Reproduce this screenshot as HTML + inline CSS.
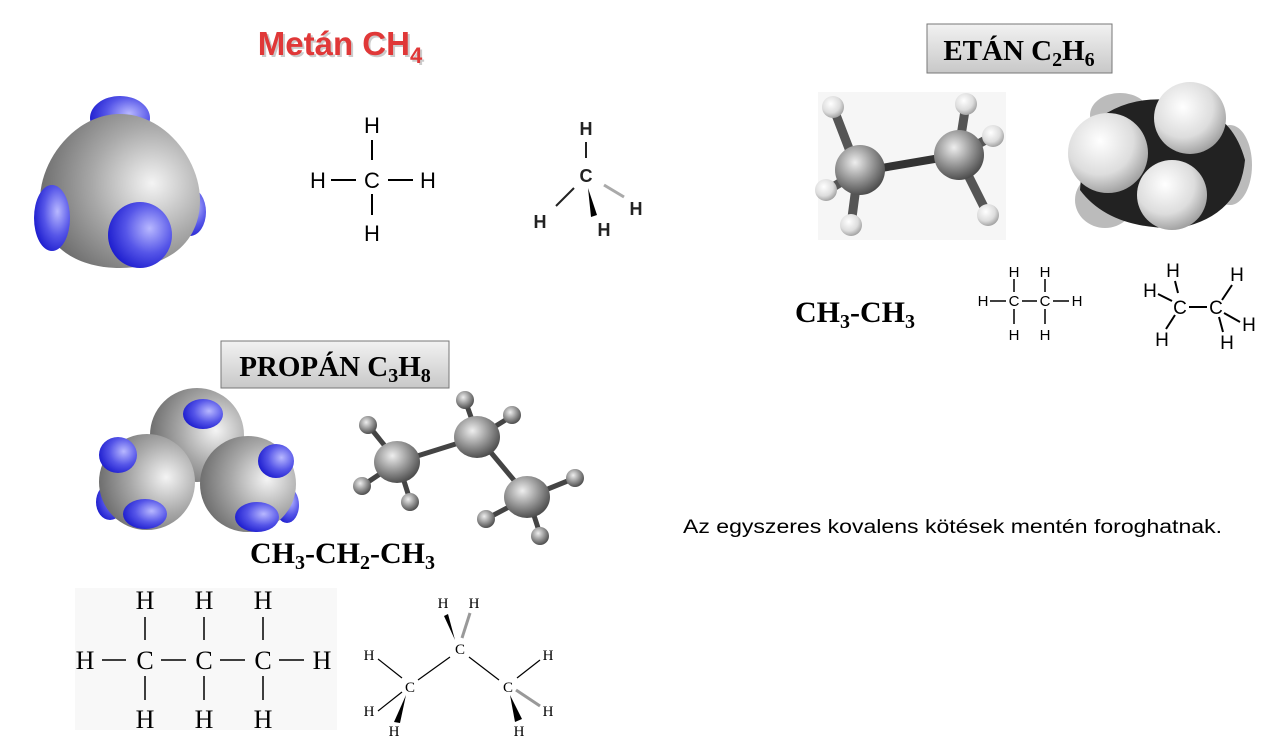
<!DOCTYPE html>
<html><head><meta charset="utf-8"><style>
html,body{margin:0;padding:0;background:#fff;}
svg{display:block;}
.sans{font-family:"Liberation Sans",sans-serif;}
.serif{font-family:"Liberation Serif",serif;}
</style></head><body>
<svg width="1283" height="751" viewBox="0 0 1283 751" xmlns="http://www.w3.org/2000/svg">
<defs>
<radialGradient id="gray" cx="0.7" cy="0.45" r="0.75"><stop offset="0" stop-color="#f4f4f4"/><stop offset="0.5" stop-color="#a8a8a8"/><stop offset="1" stop-color="#666"/></radialGradient>
<radialGradient id="blue" cx="0.65" cy="0.4" r="0.75"><stop offset="0" stop-color="#b8b8ff"/><stop offset="0.5" stop-color="#5555e8"/><stop offset="1" stop-color="#1010c8"/></radialGradient>
<radialGradient id="ball" cx="0.4" cy="0.35" r="0.7"><stop offset="0" stop-color="#eee"/><stop offset="0.6" stop-color="#888"/><stop offset="1" stop-color="#444"/></radialGradient>
<radialGradient id="wh" cx="0.4" cy="0.35" r="0.7"><stop offset="0" stop-color="#fff"/><stop offset="0.6" stop-color="#ddd"/><stop offset="1" stop-color="#999"/></radialGradient>
<linearGradient id="box" x1="0" y1="0" x2="0" y2="1"><stop offset="0" stop-color="#f2f2f2"/><stop offset="1" stop-color="#c8c8c8"/></linearGradient>
</defs>

<!-- Metán title -->
<text x="340" y="55" text-anchor="middle" class="sans" font-size="33" font-weight="bold" fill="#999" opacity="0.5" transform="translate(2,2)">Metán CH<tspan font-size="22" dy="8">4</tspan></text>
<text x="340" y="55" text-anchor="middle" class="sans" font-size="33" font-weight="bold" fill="#e03838">Metán CH<tspan font-size="22" dy="8">4</tspan></text>

<!-- methane space fill -->
<ellipse cx="190" cy="212" rx="16" ry="24" fill="url(#blue)"/>
<ellipse cx="120" cy="118" rx="30" ry="22" fill="url(#blue)"/>
<path d="M120,114 C165,114 200,160 200,200 C200,245 165,268 120,268 C75,268 40,245 40,200 C40,160 75,114 120,114 Z" fill="url(#gray)"/>
<ellipse cx="52" cy="218" rx="18" ry="33" fill="url(#blue)"/>
<ellipse cx="140" cy="235" rx="32" ry="33" fill="url(#blue)"/>

<!-- methane structural -->
<g class="sans" font-size="22" fill="#000" text-anchor="middle">
<text x="372" y="133">H</text>
<text x="318" y="188">H</text>
<text x="372" y="188">C</text>
<text x="428" y="188">H</text>
<text x="372" y="241">H</text>
</g>
<g stroke="#000" stroke-width="2">
<line x1="372" y1="140" x2="372" y2="160"/><line x1="372" y1="194" x2="372" y2="215"/>
<line x1="331" y1="180" x2="356" y2="180"/><line x1="388" y1="180" x2="413" y2="180"/>
</g>
<!-- methane wedge -->
<g class="sans" font-size="18" font-weight="bold" fill="#222" text-anchor="middle">
<text x="586" y="135">H</text><text x="586" y="182">C</text>
<text x="540" y="228">H</text><text x="604" y="236">H</text><text x="636" y="215">H</text>
</g>
<line x1="586" y1="142" x2="586" y2="158" stroke="#222" stroke-width="2"/>
<line x1="574" y1="188" x2="556" y2="206" stroke="#222" stroke-width="2"/>
<line x1="604" y1="185" x2="624" y2="197" stroke="#aaa" stroke-width="3"/>
<polygon points="588,188 597,215 591,217" fill="#000"/>

<!-- ETÁN box -->
<rect x="927" y="24" width="185" height="49" fill="url(#box)" stroke="#777" stroke-width="1"/>
<text x="1019" y="60" text-anchor="middle" class="serif" font-size="29" font-weight="bold">ETÁN C<tspan font-size="20" dy="6">2</tspan><tspan dy="-6">H</tspan><tspan font-size="20" dy="6">6</tspan></text>

<!-- ethane ball stick -->
<rect x="818" y="92" width="188" height="148" fill="#f6f6f6"/>
<g stroke-linecap="round">
<line x1="858" y1="172" x2="958" y2="155" stroke="#333" stroke-width="8"/>
<line x1="858" y1="172" x2="833" y2="107" stroke="#555" stroke-width="9"/>
<line x1="858" y1="172" x2="828" y2="190" stroke="#555" stroke-width="9"/>
<line x1="858" y1="172" x2="851" y2="225" stroke="#555" stroke-width="9"/>
<line x1="958" y1="155" x2="966" y2="104" stroke="#555" stroke-width="9"/>
<line x1="958" y1="155" x2="993" y2="136" stroke="#555" stroke-width="9"/>
<line x1="958" y1="155" x2="988" y2="215" stroke="#555" stroke-width="9"/>
</g>
<g fill="url(#wh)"><circle cx="833" cy="107" r="11"/><circle cx="966" cy="104" r="11"/><circle cx="993" cy="136" r="11"/><circle cx="826" cy="190" r="11"/><circle cx="851" cy="225" r="11"/><circle cx="988" cy="215" r="11"/></g>
<circle cx="860" cy="170" r="25" fill="url(#ball)"/>
<circle cx="959" cy="155" r="25" fill="url(#ball)"/>

<!-- ethane space fill -->
<ellipse cx="1105" cy="200" rx="30" ry="28" fill="#bbb"/>
<ellipse cx="1230" cy="165" rx="22" ry="40" fill="#bbb"/>
<ellipse cx="1120" cy="115" rx="30" ry="22" fill="#bbb"/>
<path d="M1085,130 Q1120,95 1170,100 Q1230,105 1245,160 Q1240,215 1180,228 Q1110,230 1080,190 Z" fill="#222"/>
<circle cx="1108" cy="153" r="40" fill="url(#wh)"/>
<circle cx="1190" cy="118" r="36" fill="url(#wh)"/>
<circle cx="1172" cy="195" r="35" fill="url(#wh)"/>

<!-- CH3-CH3 -->
<text x="795" y="322" class="serif" font-size="30" font-weight="bold">CH<tspan font-size="20" dy="6">3</tspan><tspan dy="-6">-CH</tspan><tspan font-size="20" dy="6">3</tspan></text>
<g class="sans" font-size="15" text-anchor="middle">
<text x="1014" y="277">H</text><text x="1045" y="277">H</text>
<text x="983" y="306">H</text><text x="1014" y="306">C</text><text x="1045" y="306">C</text><text x="1077" y="306">H</text>
<text x="1014" y="340">H</text><text x="1045" y="340">H</text>
</g>
<g stroke="#000" stroke-width="1.5">
<line x1="1014" y1="279" x2="1014" y2="292"/><line x1="1045" y1="279" x2="1045" y2="292"/>
<line x1="1014" y1="309" x2="1014" y2="324"/><line x1="1045" y1="309" x2="1045" y2="324"/>
<line x1="990" y1="301" x2="1006" y2="301"/><line x1="1022" y1="301" x2="1037" y2="301"/><line x1="1053" y1="301" x2="1069" y2="301"/>
</g>
<g class="sans" font-size="19" text-anchor="middle">
<text x="1173" y="277">H</text><text x="1150" y="297">H</text><text x="1180" y="314">C</text><text x="1216" y="314">C</text>
<text x="1237" y="281">H</text><text x="1249" y="331">H</text><text x="1162" y="346">H</text><text x="1227" y="349">H</text>
</g>
<g stroke="#000" stroke-width="2">
<line x1="1189" y1="307" x2="1207" y2="307"/><line x1="1175" y1="281" x2="1178" y2="293"/><line x1="1158" y1="294" x2="1172" y2="301"/>
<line x1="1175" y1="315" x2="1166" y2="329"/><line x1="1222" y1="300" x2="1232" y2="285"/><line x1="1224" y1="313" x2="1240" y2="322"/><line x1="1219" y1="317" x2="1223" y2="332"/>
</g>

<!-- PROPÁN box -->
<rect x="221" y="341" width="228" height="47" fill="url(#box)" stroke="#777" stroke-width="1"/>
<text x="335" y="376" text-anchor="middle" class="serif" font-size="29" font-weight="bold">PROPÁN C<tspan font-size="20" dy="6">3</tspan><tspan dy="-6">H</tspan><tspan font-size="20" dy="6">8</tspan></text>

<!-- propane space fill -->
<ellipse cx="110" cy="502" rx="14" ry="18" fill="url(#blue)"/>
<ellipse cx="287" cy="505" rx="12" ry="18" fill="url(#blue)"/>
<circle cx="197" cy="435" r="47" fill="url(#gray)"/>
<circle cx="147" cy="482" r="48" fill="url(#gray)"/>
<circle cx="248" cy="484" r="48" fill="url(#gray)"/>
<ellipse cx="203" cy="414" rx="20" ry="15" fill="url(#blue)"/>
<ellipse cx="118" cy="455" rx="19" ry="18" fill="url(#blue)"/>
<ellipse cx="276" cy="461" rx="18" ry="17" fill="url(#blue)"/>
<ellipse cx="145" cy="514" rx="22" ry="15" fill="url(#blue)"/>
<ellipse cx="257" cy="517" rx="22" ry="15" fill="url(#blue)"/>

<!-- propane ball stick -->
<g stroke-linecap="round" stroke="#444" stroke-width="5">
<line x1="398" y1="462" x2="478" y2="437"/><line x1="478" y1="437" x2="528" y2="497"/>
<line x1="398" y1="462" x2="368" y2="425"/><line x1="398" y1="462" x2="362" y2="486"/><line x1="398" y1="462" x2="410" y2="500"/>
<line x1="478" y1="437" x2="465" y2="400"/><line x1="478" y1="437" x2="512" y2="416"/>
<line x1="528" y1="497" x2="575" y2="478"/><line x1="528" y1="497" x2="488" y2="518"/><line x1="528" y1="497" x2="540" y2="534"/>
</g>
<g fill="url(#ball)">
<circle cx="368" cy="425" r="9"/><circle cx="362" cy="486" r="9"/><circle cx="410" cy="502" r="9"/>
<circle cx="465" cy="400" r="9"/><circle cx="512" cy="415" r="9"/>
<circle cx="575" cy="478" r="9"/><circle cx="486" cy="519" r="9"/><circle cx="540" cy="536" r="9"/>
<ellipse cx="397" cy="462" rx="23" ry="21"/><ellipse cx="477" cy="437" rx="23" ry="21"/><ellipse cx="527" cy="497" rx="23" ry="21"/>
</g>

<!-- CH3-CH2-CH3 -->
<text x="250" y="563" class="serif" font-size="30" font-weight="bold">CH<tspan font-size="20" dy="6">3</tspan><tspan dy="-6">-CH</tspan><tspan font-size="20" dy="6">2</tspan><tspan dy="-6">-CH</tspan><tspan font-size="20" dy="6">3</tspan></text>

<!-- propane structural -->
<rect x="75" y="588" width="262" height="142" fill="#f8f8f8"/>
<g class="serif" font-size="26" text-anchor="middle">
<text x="145" y="609">H</text><text x="204" y="609">H</text><text x="263" y="609">H</text>
<text x="85" y="669">H</text><text x="145" y="669">C</text><text x="204" y="669">C</text><text x="263" y="669">C</text><text x="322" y="669">H</text>
<text x="145" y="728">H</text><text x="204" y="728">H</text><text x="263" y="728">H</text>
</g>
<g stroke="#000" stroke-width="1.5">
<line x1="145" y1="617" x2="145" y2="640"/><line x1="204" y1="617" x2="204" y2="640"/><line x1="263" y1="617" x2="263" y2="640"/>
<line x1="145" y1="676" x2="145" y2="700"/><line x1="204" y1="676" x2="204" y2="700"/><line x1="263" y1="676" x2="263" y2="700"/>
<line x1="102" y1="660" x2="126" y2="660"/><line x1="161" y1="660" x2="186" y2="660"/><line x1="220" y1="660" x2="245" y2="660"/><line x1="279" y1="660" x2="304" y2="660"/>
</g>
<!-- propane wedge -->
<g class="serif" font-size="15" text-anchor="middle">
<text x="443" y="608">H</text><text x="474" y="608">H</text><text x="460" y="654">C</text>
<text x="369" y="660">H</text><text x="410" y="692">C</text><text x="548" y="660">H</text><text x="508" y="692">C</text>
<text x="369" y="716">H</text><text x="394" y="736">H</text><text x="548" y="716">H</text><text x="519" y="736">H</text>
</g>
<g stroke="#000" stroke-width="1.2">
<line x1="450" y1="657" x2="418" y2="680"/><line x1="469" y1="657" x2="499" y2="680"/>
<line x1="378" y1="659" x2="402" y2="678"/><line x1="540" y1="660" x2="517" y2="678"/>
<line x1="378" y1="711" x2="402" y2="692"/>
</g>
<polygon points="455,640 448,614 444,616" fill="#000"/>
<line x1="462" y1="638" x2="470" y2="613" stroke="#999" stroke-width="3"/>
<polygon points="406,695 394,722 400,723" fill="#000"/>
<polygon points="510,695 515,722 522,719" fill="#000"/>
<line x1="516" y1="690" x2="540" y2="706" stroke="#999" stroke-width="3"/>

<!-- note -->
<text x="683" y="533" class="sans" font-size="19" textLength="539" lengthAdjust="spacingAndGlyphs">Az egyszeres kovalens kötések mentén foroghatnak.</text>
</svg>
</body></html>
